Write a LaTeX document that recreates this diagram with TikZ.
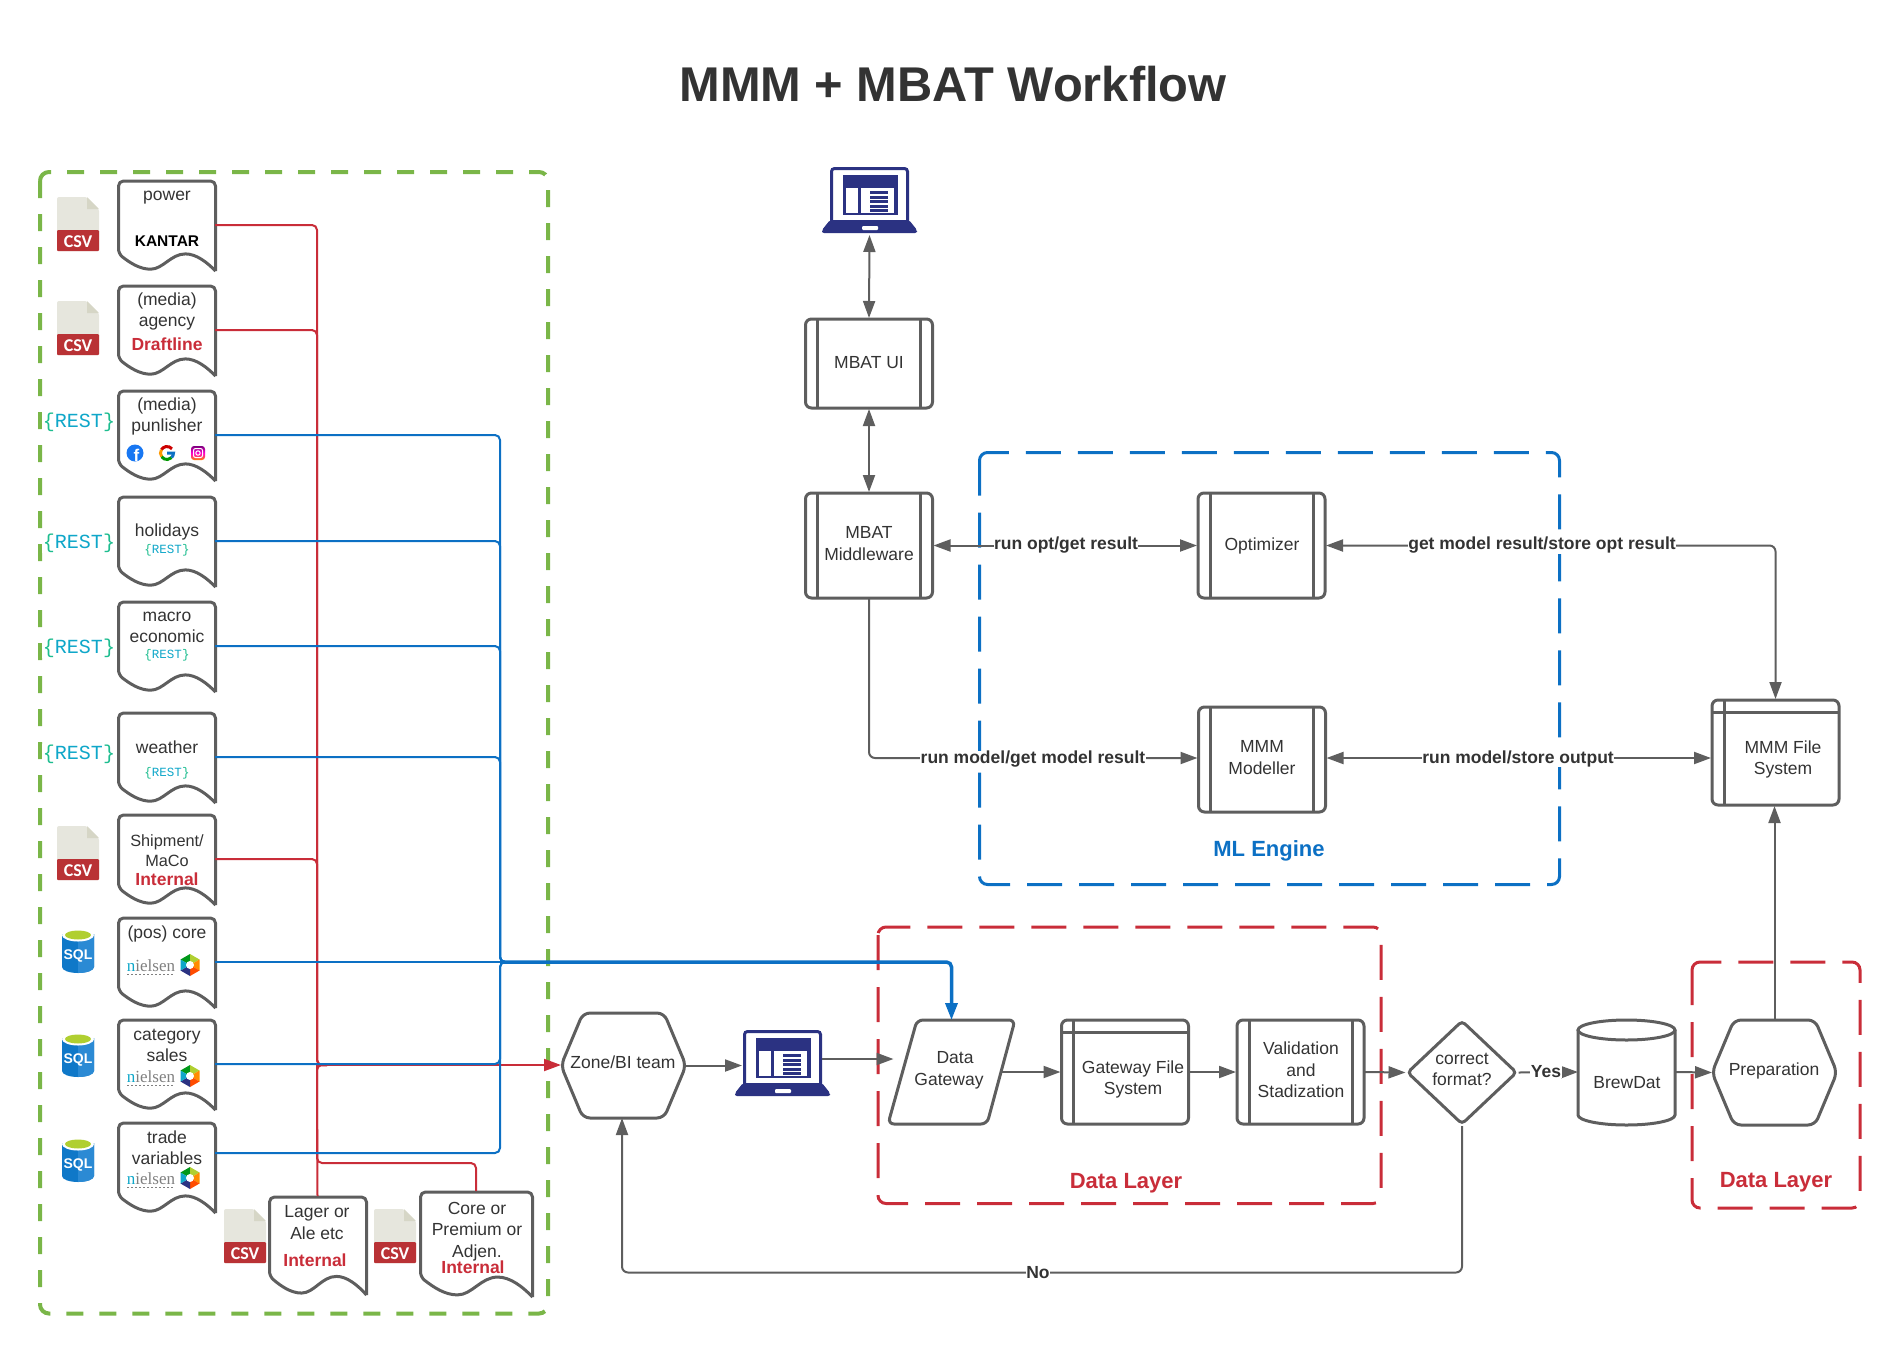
\documentclass[tikz,border=0pt]{standalone}
\usepackage{fontspec}
\setmainfont{Liberation Sans}
\newfontfamily\slabfont{Liberation Mono}
\newfontfamily\logofont{Carlito}
\newfontfamily\serifmark{Liberation Serif}
\usetikzlibrary{arrows.meta,shapes.geometric}

\definecolor{inkgrey}{HTML}{333333}
\definecolor{linegrey}{HTML}{5E5E5E}
\definecolor{boxgreen}{HTML}{7AB648}
\definecolor{accentred}{HTML}{C92D39}
\definecolor{accentblue}{HTML}{0C70C4}
\definecolor{laptopblue}{HTML}{2B3282}
\definecolor{csvpaper}{HTML}{E6E6DD}
\definecolor{csvfold}{HTML}{D6D6C6}
\definecolor{csvband}{HTML}{B93235}
\definecolor{sqldark}{HTML}{0F78C8}
\definecolor{sqllight}{HTML}{2B8AD4}
\definecolor{sqllime}{HTML}{B0CF30}
\definecolor{bracegreen}{HTML}{1DBD8F}
\definecolor{restblue}{HTML}{0FA7C9}

\tikzset{
	bodytext/.style={font=\fontsize{17.5}{21.5}\selectfont, text=inkgrey, align=center, inner sep=0pt, yshift=-1.5pt},
	boldtext/.style={font=\fontsize{17.5}{21}\selectfont\bfseries, text=inkgrey, fill=white, inner sep=0.5pt, yshift=-1.5pt},
	internaltext/.style={font=\fontsize{17.5}{21}\selectfont\bfseries, text=accentred, inner sep=0pt, yshift=-1.5pt},
	layertext/.style={font=\fontsize{22}{26}\selectfont\bfseries, inner sep=0pt},
	shapeline/.style={draw=linegrey, line width=3pt},
	hollownode/.style={inner sep=0pt, outer sep=0pt},
	procbox/.style={shapeline, rounded corners=6pt, minimum width=127pt, minimum height=105pt, outer sep=1pt},
	greenframe/.style={draw=boxgreen, line width=4pt, rounded corners=9pt, dash pattern=on 17pt off 16pt},
	redframe/.style={draw=accentred, line width=3pt, rounded corners=8pt, dash pattern=on 35pt off 17pt},
	blueframe/.style={draw=accentblue, line width=3pt, rounded corners=8pt, dash pattern=on 35pt off 17pt},
	greyline/.style={draw=linegrey, line width=2pt, rounded corners=6pt},
	redline/.style={draw=accentred, line width=2pt, rounded corners=5pt},
	blueline/.style={draw=accentblue, line width=2pt, rounded corners=5pt},
	tipend/.style={-{Triangle[length=17pt,width=12pt]}},
	tipboth/.style={{Triangle[length=17pt,width=12pt]}-{Triangle[length=17pt,width=12pt]}},
}

% document shape: name, left, top, width, height
\newcommand{\docbox}[5]{
	\node[hollownode, anchor=north west, minimum width=#4pt, minimum height=#5pt] (#1) at (#2,#3) {};
	\draw[shapeline, line join=round, shift={(#2+0.5,#3+1)}, xscale=#4/100, yscale=#5/100]
		(100,100) [rounded corners=5pt] -- (100,0) -- (0,0) -- (0,81) [sharp corners]
		.. controls (12,91) and (22,98) .. (33,98) .. controls (46,98) and (54,81) .. (69,81)
		.. controls (80,81) and (91,90) .. (100,100);
}

% csv file icon: name, left, top
\newcommand{\csvicon}[3]{
	\begin{scope}[shift={(#2,#3)}]
		\fill[csvpaper, rounded corners=2pt] (0,0) -- (30,0) -- (42,12) -- (42,54) -- (0,54) -- cycle;
		\fill[csvfold] (30,0) -- (42,12) -- (30,12) -- cycle;
		\fill[csvband, rounded corners=1pt] (0,33) rectangle (42,54);
		\node[hollownode, text=white, font=\logofont\bfseries\fontsize{18}{18}\selectfont] (#1) at (21,45) {CSV};
	\end{scope}
}

% sql cylinder icon: name, left, top
\newcommand{\sqlicon}[3]{
	\begin{scope}[shift={(#2,#3)}]
		\fill[sqldark] (0,6) -- (0,39) arc[start angle=180, end angle=360, x radius=16pt, y radius=6pt] -- (32,6) -- cycle;
		\fill[sqllight] (16,6) -- (16,45) arc[start angle=270, end angle=360, x radius=16pt, y radius=6pt] -- (32,6) -- cycle;
		\fill[white] (16,7) ellipse[x radius=16pt, y radius=6.5pt];
		\fill[sqllime] (16,7) ellipse[x radius=13pt, y radius=4.5pt];
		\node[hollownode, text=white, font=\fontsize{14}{14}\selectfont\bfseries] (#1) at (16,28) {SQL};
	\end{scope}
}

% rest mark: name, x, y, size
\newcommand{\restmark}[4]{
	\node[hollownode, fill=white, inner sep=1pt, font=\slabfont\fontsize{#4}{#4}\selectfont, text=restblue] (#1) at (#2,#3)
		{\textcolor{bracegreen}{\{}REST\textcolor{bracegreen}{\}}};
}

% nielsen mark: name, y
\newcommand{\nielsenmark}[2]{
	\node[hollownode, font=\serifmark\fontsize{17}{17}\selectfont, text=black!50] (#1) at (151,#2) {\textcolor{restblue}{n}ielsen};
	\draw[black!50, line width=1pt, dash pattern=on 1.5pt off 2.5pt] (127,#2+8) -- (175,#2+8);
	\begin{scope}[shift={(190,#2-1)}]
		\fill[green!55!black!90!cyan] (0,0) -- (0,-11) -- (-9.5,-5.5) -- cycle;
		\fill[sqllime] (0,0) -- (0,-11) -- (9.5,-5.5) -- cycle;
		\fill[orange!90!yellow] (0,0) -- (9.5,-5.5) -- (9.5,5.5) -- cycle;
		\fill[orange!60!red] (0,0) -- (9.5,5.5) -- (0,11) -- cycle;
		\fill[laptopblue] (0,0) -- (0,11) -- (-9.5,5.5) -- cycle;
		\fill[restblue] (0,0) -- (-9.5,5.5) -- (-9.5,-5.5) -- cycle;
		\fill[white] (0,0) circle[radius=4pt];
	\end{scope}
}

% laptop icon: name, left, top
\newcommand{\laptopicon}[3]{
	\node[hollownode, anchor=north west, minimum width=95pt, minimum height=66pt] (#1) at (#2,#3) {};
	\begin{scope}[shift={(#2,#3)}]
		\draw[laptopblue, line width=3pt, rounded corners=3pt] (9.5,55) -- (9.5,1.5) -- (85.5,1.5) -- (85.5,55);
		\fill[laptopblue, rounded corners=2pt] (8,53) -- (87,53) -- (95,63) -- (95,66) -- (0,66) -- (0,63) -- cycle;
		\fill[white, rounded corners=1pt] (40,59) rectangle (56,63);
		\fill[laptopblue] (21,8) rectangle (76,48);
		\fill[white] (24,21) rectangle (36,46);
		\fill[white] (39,21) rectangle (72,46);
		\fill[laptopblue] (48,24) rectangle (66,27);
		\fill[laptopblue] (48,28.5) rectangle (66,31.5);
		\fill[laptopblue] (48,33) rectangle (66,36);
		\fill[laptopblue] (48,37.5) rectangle (66,40.5);
		\fill[laptopblue] (48,42) rectangle (66,45);
	\end{scope}
}

% hexagon outline round a named node
\newcommand{\hexoutline}[1]{
	\draw[shapeline, rounded corners=7pt] (#1.west) -- ([xshift=22pt]#1.north west) -- ([xshift=-22pt]#1.north east)
		-- (#1.east) -- ([xshift=-22pt]#1.south east) -- ([xshift=22pt]#1.south west) -- cycle;
}

% side bars of a process box
\newcommand{\procbars}[1]{
	\draw[shapeline] ([xshift=13pt]#1.north west) -- ([xshift=13pt]#1.south west);
	\draw[shapeline] ([xshift=-13pt]#1.north east) -- ([xshift=-13pt]#1.south east);
}

% bars of a file system box
\newcommand{\filebars}[1]{
	\draw[shapeline] ([xshift=13pt]#1.north west) -- ([xshift=13pt]#1.south west);
	\draw[shapeline] ([yshift=-13pt]#1.north west) -- ([yshift=-13pt]#1.north east);
}

\begin{document}
\begin{tikzpicture}[x=1pt, y=-1pt]
	\useasboundingbox (0,0) rectangle (1900,1352);

	% Title
	\node[font=\fontsize{48.8}{52}\selectfont\bfseries, text=inkgrey, inner sep=0pt] (title) at (953,84) {MMM + MBAT Workflow};

	% Dashed frames
	\draw[greenframe] (40,172) rectangle (548,1313.5);
	\draw[blueframe] (979.5,452.5) rectangle (1559.5,884.5);
	\draw[redframe] (878,927) rectangle (1381,1203.5);
	\draw[redframe] (1692,962) rectangle (1860,1208);
	\node[layertext, text=accentblue] (mllabel) at (1269,850.5) {ML Engine};
	\node[layertext, text=accentred] (datalabel) at (1126,1183.5) {Data Layer};
	\node[layertext, text=accentred] (preplabel) at (1776,1182.5) {Data Layer};

	% Source documents
	\docbox{powerdoc}{118}{180}{97}{90}
	\docbox{agencydoc}{118}{285}{97}{90}
	\docbox{publisherdoc}{118}{390}{97}{90}
	\docbox{holidaydoc}{118}{496}{97}{90}
	\docbox{macrodoc}{118}{601}{97}{90}
	\docbox{weatherdoc}{118}{712}{97}{90}
	\docbox{shipdoc}{118}{814}{97}{90}
	\docbox{posdoc}{118}{917}{97}{90}
	\docbox{catdoc}{118}{1019}{97}{90}
	\docbox{tradedoc}{118}{1122}{97}{90}
	\docbox{lagerdoc}{269}{1196}{97}{98}
	\docbox{coredoc}{420}{1191}{112}{105}

	% Texts of the documents
	\node[bodytext] (powertxt) at (167,196) {power};
	\node[hollownode, text=black, font=\fontsize{15.5}{17}\selectfont\bfseries] (kantar) at (167,241) {KANTAR};
	\node[bodytext] (agencytxt) at (167,310) {(media)\\agency};
	\node[internaltext] (draftline) at (167,343) {Draftline};
	\node[bodytext] (publishertxt) at (167,415) {(media)\\punlisher};
	\node[bodytext] (holidaytxt) at (167,530) {holidays};
	\node[bodytext] (macrotxt) at (167,626) {macro\\economic};
	\node[bodytext] (weathertxt) at (167,746) {weather};
	\node[bodytext, font=\fontsize{16.3}{20}\selectfont] (shiptxt) at (167,849) {Shipment/\\MaCo};
	\node[internaltext] (shipint) at (167,878) {Internal};
	\node[bodytext] (postxt) at (167,932) {(pos) core};
	\node[bodytext] (cattxt) at (167,1044) {category\\sales};
	\node[bodytext] (tradetxt) at (167,1146) {trade\\variables};
	\node[bodytext] (lagertxt) at (317,1221) {Lager or\\Ale etc};
	\node[internaltext] (lagerint) at (315,1259) {Internal};
	\node[bodytext] (coretxt) at (477,1230) {Core or\\Premium or\\Adjen.};
	\node[internaltext] (coreint) at (473,1266) {Internal};

	% Source icons
	\csvicon{csvpower}{57}{197}
	\csvicon{csvagency}{57}{301}
	\csvicon{csvship}{57}{826}
	\csvicon{csvlager}{224}{1209}
	\csvicon{csvcore}{374}{1209}
	\sqlicon{sqlpos}{62}{928}
	\sqlicon{sqlcat}{62}{1032}
	\sqlicon{sqltrade}{62}{1137}
	\restmark{restpub}{79}{422}{20}
	\restmark{restholiday}{79}{543}{20}
	\restmark{restmacro}{79}{648}{20}
	\restmark{restweather}{79}{754}{20}
	\restmark{restsmalla}{167}{550}{12.5}
	\restmark{restsmallb}{167}{655}{12.5}
	\restmark{restsmallc}{167}{773}{12.5}
	\nielsenmark{nielsenpos}{966}
	\nielsenmark{nielsencat}{1077}
	\nielsenmark{nielsentrade}{1179}

	% Logos of the publisher document
	\definecolor{fbblue}{HTML}{1877F2}
	\fill[fbblue] (135,453) circle[radius=8.5pt];
	\node[hollownode, text=white, font=\fontsize{17}{17}\selectfont\bfseries] (fblogo) at (136.5,455) {f};
	\coordinate (glogo) at (167,453);
	\draw[line width=3pt, red!80!black] ([shift={(40:6.5pt)}]glogo) arc[start angle=40, end angle=150, radius=6.5pt];
	\draw[line width=3pt, orange!80!yellow] ([shift={(150:6.5pt)}]glogo) arc[start angle=150, end angle=215, radius=6.5pt];
	\draw[line width=3pt, green!60!black] ([shift={(215:6.5pt)}]glogo) arc[start angle=215, end angle=315, radius=6.5pt];
	\draw[line width=3pt, accentblue] ([shift={(315:6.5pt)}]glogo) arc[start angle=315, end angle=360, radius=6.5pt] -- (167,453);
	\shade[top color=violet, bottom color=orange, middle color=magenta!80!red, rounded corners=3pt] (191,446) rectangle (205,460);
	\draw[white, line width=1pt, rounded corners=2pt] (193.5,448.5) rectangle (202.5,457.5);
	\draw[white, line width=1pt] (198,453) circle[radius=2.2pt];

	% Process nodes
	\laptopicon{laptopui}{822}{167}
	\node[procbox, minimum height=89pt] (mbatui) at (869,363.5) {};
	\node[bodytext] (mbatuitxt) at (869,361) {MBAT UI};
	\node[procbox] (middleware) at (869,545.5) {};
	\node[bodytext] (middlewaretxt) at (869,542.3) {MBAT\\Middleware};
	\node[procbox] (optimizer) at (1261.5,545.5) {};
	\node[bodytext] (optimizertxt) at (1262,544) {Optimizer};
	\node[procbox] (modeller) at (1262,759.5) {};
	\node[bodytext] (modellertxt) at (1262,756.3) {MMM\\Modeller};
	\node[procbox] (filesys) at (1775.5,752.5) {};
	\node[bodytext] (filetxt) at (1783,758) {MMM File\\System};
	\node[hollownode, minimum width=125pt, minimum height=105pt] (zone) at (623.5,1065.5) {};
	\node[bodytext] (zonetxt) at (623,1060.5) {Zone/BI team};
	\laptopicon{laptopzone}{735}{1030}
	\node[hollownode, minimum width=100pt, minimum height=104pt] (gateway) at (951.5,1072) {};
	\node[bodytext] (gatewaytxt) at (949,1069) {\hspace*{12pt}Data\\Gateway};
	\node[procbox, minimum height=104pt] (gatefile) at (1125,1072) {};
	\node[bodytext] (gatefiletxt) at (1133,1078) {Gateway File\\System};
	\node[procbox, minimum height=104pt] (validation) at (1300.5,1072) {};
	\node[bodytext] (validationtxt) at (1301,1068.3) {Validation\\and\\Stadization};
	\node[shapeline, diamond, aspect=1, rounded corners=4pt, inner sep=0pt, minimum width=110pt, minimum height=104pt] (format) at (1462,1072.5) {};
	\node[bodytext] (formattxt) at (1462,1068) {correct\\format?};
	\node[hollownode, minimum width=97pt, minimum height=106pt] (brewdat) at (1626.5,1072) {};
	\node[bodytext] (brewtxt) at (1627,1081) {BrewDat};
	\node[hollownode, minimum width=125pt, minimum height=105pt] (prep) at (1774.5,1072.5) {};
	\node[bodytext] (preptxt) at (1774,1069) {Preparation};

	% Outlines and bars
	\procbars{mbatui}
	\procbars{middleware}
	\procbars{optimizer}
	\procbars{modeller}
	\procbars{validation}
	\filebars{filesys}
	\filebars{gatefile}
	\hexoutline{zone}
	\hexoutline{prep}
	\draw[shapeline, rounded corners=6pt] (917,1020) -- (1015,1020) -- (987,1124) -- (888,1124) -- cycle;
	\draw[shapeline] (1578,1030) -- (1578,1115) arc[start angle=180, end angle=360, x radius=48.5pt, y radius=10pt] -- (1675,1030);
	\draw[shapeline] (1626.5,1030) ellipse[x radius=48.5pt, y radius=10pt];

	% Red connectors into the zone team
	\coordinate (redbus) at (317,1065);
	\coordinate (redcorner) at (317,1163);
	\draw[redline] (powerdoc.east) -| (redbus) -- ([xshift=10pt]redbus);
	\draw[redline] (agencydoc.east) -| (redbus) -- ([xshift=10pt]redbus);
	\draw[redline] (shipdoc.east) -| (redbus) -- ([xshift=10pt]redbus);
	\draw[redline] (lagerdoc.north) -- (redbus) -- ([xshift=10pt]redbus);
	\draw[redline] (coredoc.north) |- (redcorner) -- (redbus);
	\draw[redline, tipend] (redbus) -- (redbus -| zone.west);

	% Blue connectors into the gateway
	\coordinate (bluebus) at (500,962);
	\draw[blueline] (publisherdoc.east) -| (bluebus) -- ([xshift=10pt]bluebus);
	\draw[blueline] (holidaydoc.east) -| (bluebus) -- ([xshift=10pt]bluebus);
	\draw[blueline] (macrodoc.east) -| (bluebus) -- ([xshift=10pt]bluebus);
	\draw[blueline] (weatherdoc.east) -| (bluebus) -- ([xshift=10pt]bluebus);
	\draw[blueline] (posdoc.east) -- (bluebus);
	\draw[blueline] (catdoc.east) -| (bluebus) -- ([xshift=10pt]bluebus);
	\draw[blueline] ([yshift=14pt]tradedoc.east) -| (bluebus) -- ([xshift=10pt]bluebus);
	\draw[blueline, line width=3.5pt, tipend] (bluebus) -| (gateway.north);

	% Grey connectors
	\draw[greyline, tipboth] ([yshift=-2pt]laptopui.south) -- (mbatui.north);
	\draw[greyline, tipboth] (mbatui.south) -- (middleware.north);
	\draw[greyline, tipboth] (middleware.east) -- (optimizer.west);
	\draw[greyline, tipend] (middleware.south) |- ([yshift=1.5pt]modeller.west);
	\draw[greyline, tipboth] (optimizer.east) -| (filesys.north);
	\draw[greyline, tipboth] ([yshift=1.5pt]modeller.east) -- ([yshift=1.5pt]modeller.east -| filesys.west);
	\draw[greyline, tipend] (prep.north) -- (prep.north |- filesys.south);
	\draw[greyline, tipend] (zone.east) -- ([xshift=7pt]laptopzone.west |- zone.east);
	\draw[greyline, tipend] ([xshift=-8pt,yshift=4pt]laptopzone.east) -- ([xshift=-8pt,yshift=4pt]laptopzone.east -| gateway.west);
	\draw[greyline, tipend] (gateway.east) -- (gatefile.west);
	\draw[greyline, tipend] (gatefile.east) -- (validation.west);
	\draw[greyline, tipend] (validation.east) -- (format.west);
	\draw[greyline, tipend] (format.east) -- (brewdat.west);
	\draw[greyline, tipend] (brewdat.east) -- (prep.west);
	\coordinate (noleft) at (622,1272.5);
	\draw[greyline, tipend] (format.south) |- (noleft) -- (noleft |- zone.south);

	% Connector labels
	\node[boldtext] (runopt) at (1066,544) {run opt/get result};
	\node[boldtext] (runmodel) at (1033,758) {run model/get model result};
	\node[boldtext] (getmodel) at (1542,544) {get model result/store opt result};
	\node[boldtext] (storeout) at (1518,757) {run model/store output};
	\node[boldtext] (yeslabel) at (1546,1070) {Yes};
	\node[boldtext] (nolabel) at (1038,1271) {No};
\end{tikzpicture}
\end{document}
